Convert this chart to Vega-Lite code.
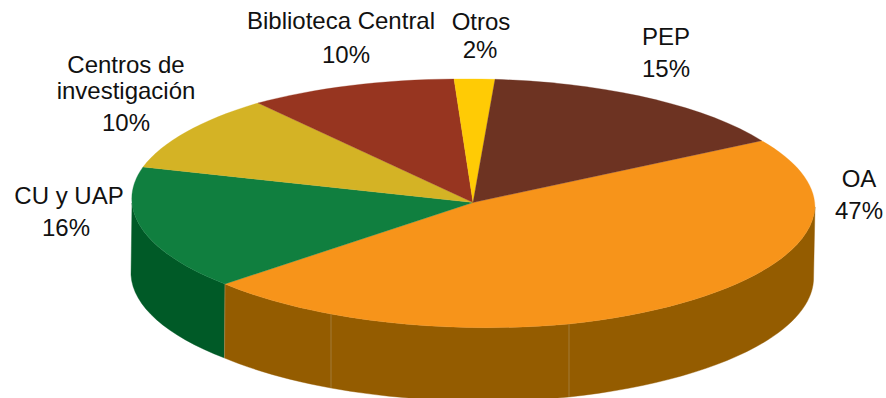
{"$schema":"https://vega.github.io/schema/vega-lite/v6.json","width":886,"height":398,"padding":0,"autosize":{"type":"none"},"background":"white","config":{"view":{"stroke":null}},
"resolve":{"scale":{"shape":"independent","color":"independent","stroke":"independent"}},
"datasets":{
"paredes":[{"pieza":"CU y UAP lateral"},{"pieza":"OA lateral 1"},{"pieza":"OA lateral 2"},{"pieza":"OA lateral 3"}],
"sectores":[{"categoria":"OA","porcentaje":47},{"categoria":"CU y UAP","porcentaje":16},{"categoria":"Centros de investigación","porcentaje":10},{"categoria":"Biblioteca Central","porcentaje":10},{"categoria":"Otros","porcentaje":2},{"categoria":"PEP","porcentaje":15}],
"uniones":[{"union":"a"},{"union":"b"},{"union":"c"}],
"etiquetas":[
{"texto":"OA","este":386,"sur":-23},{"texto":"47%","este":386,"sur":9},
{"texto":"PEP","este":193,"sur":-165},{"texto":"15%","este":193,"sur":-133},
{"texto":"Otros","este":8,"sur":-180},{"texto":"2%","este":7,"sur":-152},
{"texto":"Biblioteca Central","este":-132,"sur":-181},{"texto":"10%","este":-127,"sur":-147},
{"texto":"Centros de","este":-347,"sur":-137},{"texto":"investigación","este":-347,"sur":-111},{"texto":"10%","este":-347,"sur":-79},
{"texto":"CU y UAP","este":-404,"sur":-6},{"texto":"16%","este":-407,"sur":26}]
},
"layer":[
{"data":{"name":"paredes"},"mark":{"type":"point","filled":true,"opacity":1,"strokeWidth":0.4},
"encoding":{"x":{"datum":0,"type":"quantitative","scale":{"domain":[-473,413]},"axis":null},"y":{"datum":0,"type":"quantitative","scale":{"domain":[195.5,-202.5]},"axis":null},"size":{"value":4},
"shape":{"field":"pieza","type":"nominal","legend":null,"scale":{"domain":["CU y UAP lateral","OA lateral 1","OA lateral 2","OA lateral 3"],"range":[
"M-248 81.5A342 124.5 0 0 1 -341 0.5L-342 72.5A342 124.5 0 0 0 -248.5 155.5Z",
"M-248 81.5A342 124.5 0 0 0 -142 111.5L-142 185.5A342 124.5 0 0 1 -248.5 155.5Z",
"M-142 111.5A342 124.5 0 0 0 96 121.5L96 194.5A342 124.5 0 0 1 -142 185.5Z",
"M96 121.5A342 124.5 0 0 0 342 4.5L340.5 78A342 124.5 0 0 1 96 194.5Z"]}},
"color":{"field":"pieza","type":"nominal","legend":null,"scale":{"domain":["CU y UAP lateral","OA lateral 1","OA lateral 2","OA lateral 3"],"range":["#005A27","#945C00","#945C00","#945C00"]}},
"stroke":{"field":"pieza","type":"nominal","legend":null,"scale":{"domain":["CU y UAP lateral","OA lateral 1","OA lateral 2","OA lateral 3"],"range":["#005A27","#945C00","#945C00","#945C00"]}}}},
{"data":{"name":"uniones"},"mark":{"type":"point","filled":false,"opacity":1,"strokeWidth":0.5,"color":"#b39a6e"},
"encoding":{"x":{"datum":0,"type":"quantitative","scale":{"domain":[-473,413]},"axis":null},"y":{"datum":0,"type":"quantitative","scale":{"domain":[195.5,-202.5]},"axis":null},"size":{"value":4},
"shape":{"field":"union","type":"nominal","legend":null,"scale":{"domain":["a","b","c"],"range":["M-248 81.5L-248.5 155.5","M-142 111.5L-142 185.5","M96 121.5L96 194.5"]}}}},
{"data":{"name":"sectores"},"mark":{"type":"point","filled":true,"opacity":1,"strokeWidth":0.3},
"encoding":{"x":{"datum":0,"type":"quantitative","scale":{"domain":[-473,413]},"axis":null},"y":{"datum":0,"type":"quantitative","scale":{"domain":[195.5,-202.5]},"axis":null},"size":{"value":4},
"shape":{"field":"categoria","type":"nominal","legend":null,"scale":{"domain":["OA","CU y UAP","Centros de investigación","Biblioteca Central","Otros","PEP"],"range":[
"M0 0L288.7 -61.8A342 124.5 0 0 1 342 4.5A342 124.5 0 0 1 96 121.5A342 124.5 0 0 1 -142 111.5A342 124.5 0 0 1 -248 81.5Z",
"M0 0L-248 81.5A342 124.5 0 0 1 -341 0.5A342 124.5 0 0 1 -330 -35.5Z",
"M0 0L-330 -35.5A342 124.5 0 0 1 -215 -99.5Z",
"M0 0L-215 -99.5A342 124.5 0 0 1 -19 -123.5Z",
"M0 0L-19 -123.5A342 124.5 0 0 1 22 -123.2Z",
"M0 0L22 -123.2A342 124.5 0 0 1 288.7 -61.8Z"]}},
"color":{"field":"categoria","type":"nominal","legend":null,"scale":{"domain":["OA","CU y UAP","Centros de investigación","Biblioteca Central","Otros","PEP"],"range":["#F7941A","#107F3F","#D4B325","#973520","#FFCB05","#6D3322"]}},
"stroke":{"field":"categoria","type":"nominal","legend":null,"scale":{"domain":["OA","CU y UAP","Centros de investigación","Biblioteca Central","Otros","PEP"],"range":["#F7941A","#107F3F","#D4B325","#973520","#FFCB05","#6D3322"]}}}},
{"data":{"name":"etiquetas"},"mark":{"type":"text","font":"Liberation Sans","fontSize":24,"color":"#111111","align":"center","baseline":"middle"},
"encoding":{"x":{"field":"este","type":"quantitative","scale":{"domain":[-473,413]},"axis":null},"y":{"field":"sur","type":"quantitative","scale":{"domain":[195.5,-202.5]},"axis":null},"text":{"field":"texto","type":"nominal"}}}
]}
